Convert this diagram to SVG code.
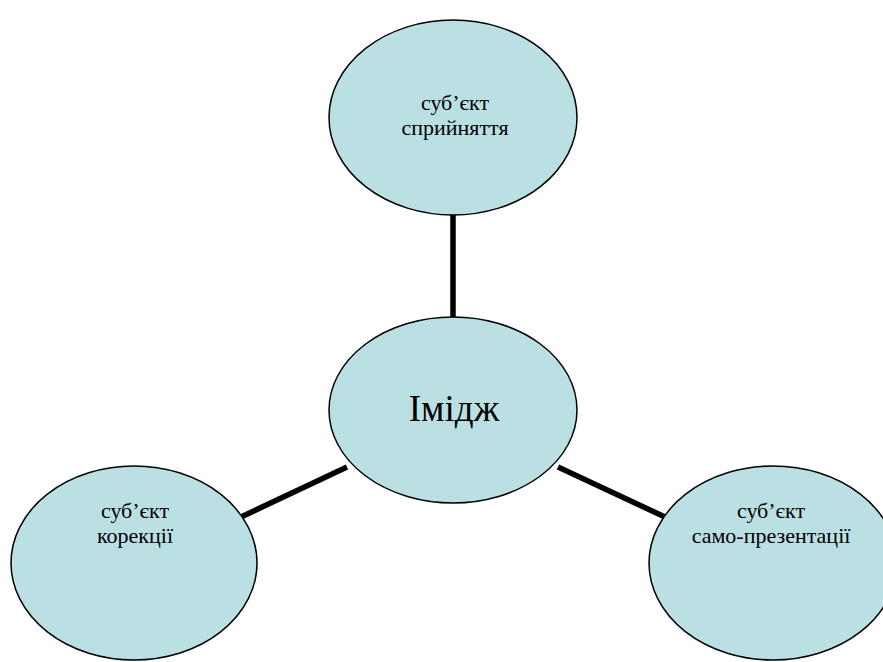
<svg xmlns="http://www.w3.org/2000/svg" width="883" height="662" viewBox="0 0 883 662">
<style>
.n{fill:#BAE0E4;stroke:#000;stroke-width:1.5}
.t{font-family:'Liberation Serif','DejaVu Serif','Times New Roman',serif;font-size:22px;fill:#000;text-anchor:middle}
.big{font-size:37px}
.c{stroke:#000;stroke-width:5.5;fill:none}
</style>
<rect width="883" height="662" fill="#fff"/>
<g id="connectors">
<line class="c" x1="453" y1="214" x2="453" y2="318"/>
<line class="c" x1="241" y1="517" x2="347" y2="467"/>
<line class="c" x1="665" y1="517" x2="558" y2="467"/>
</g>
<g id="node-top">
<ellipse class="n" cx="453" cy="117.5" rx="124" ry="97.5"/>
<text class="t" x="455" y="110">суб’єкт</text>
<text class="t" x="455" y="135">сприйняття</text>
</g>
<g id="node-center">
<ellipse class="n" cx="453" cy="410" rx="124" ry="93"/>
<text class="t big" x="454" y="421">Імідж</text>
</g>
<g id="node-left">
<ellipse class="n" cx="134" cy="563" rx="123" ry="97"/>
<text class="t" x="135" y="518">суб’єкт</text>
<text class="t" x="135" y="543">корекції</text>
</g>
<g id="node-right">
<ellipse class="n" cx="773" cy="563" rx="124" ry="97"/>
<text class="t" x="771" y="518">суб’єкт</text>
<text class="t" x="771" y="543">само-презентації</text>
</g>
</svg>
